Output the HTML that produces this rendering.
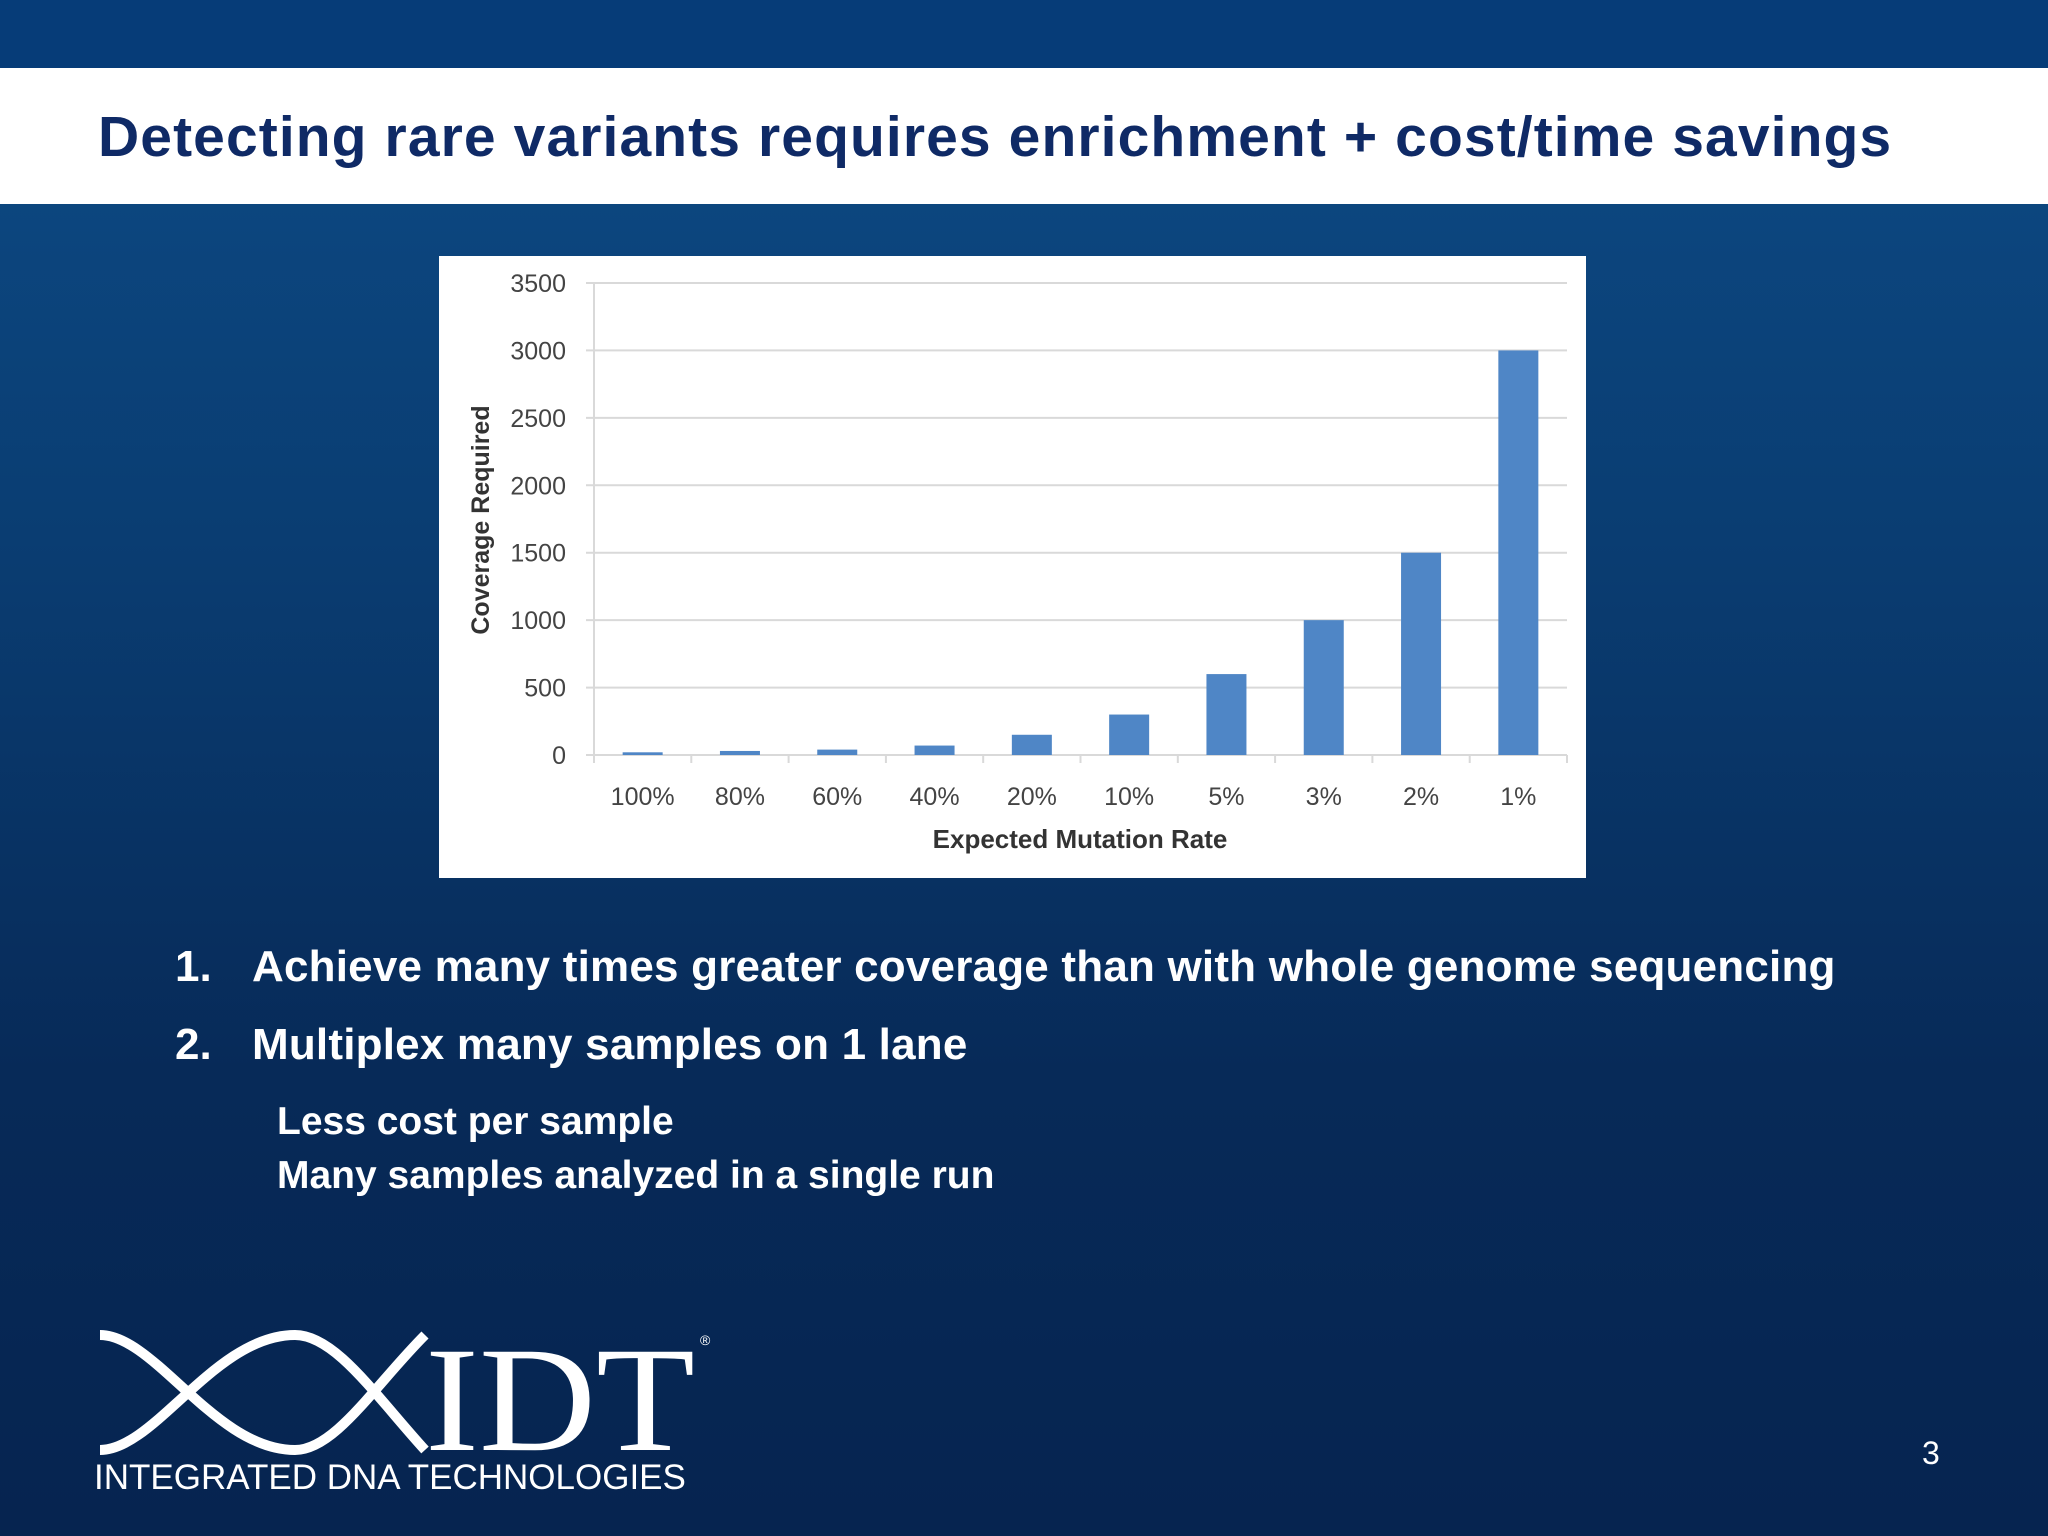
<!DOCTYPE html>
<html><head><meta charset="utf-8"><style>
body{margin:0;width:2048px;height:1536px;overflow:hidden;font-family:"Liberation Sans",sans-serif;background:linear-gradient(#0d4b86 0%,#0a3d72 35%,#072a58 70%,#062450 100%);position:relative}
.abs{position:absolute}
</style></head><body>
<div class="abs" style="left:0;top:0;width:2048px;height:68px;background:#063c78"></div>
<div class="abs" style="left:0;top:68px;width:2048px;height:136px;background:#fff"></div>
<div class="abs" style="left:98px;top:104px;font-size:57px;font-weight:bold;color:#0f2a66;white-space:nowrap;letter-spacing:1.1px">Detecting rare variants requires enrichment + cost/time savings</div>
<svg class="abs" style="left:0;top:0" width="2048" height="1536" id="chart">
<rect x="439" y="256" width="1147" height="622" fill="#fff"/>
</svg>
<div class="abs" style="left:175px;top:942px;font-size:44px;font-weight:bold;color:#fff;white-space:nowrap">1.<span style="position:absolute;left:77px;letter-spacing:0.2px">Achieve many times greater coverage than with whole genome sequencing</span></div>
<div class="abs" style="left:175px;top:1020px;font-size:44px;font-weight:bold;color:#fff;white-space:nowrap">2.<span style="position:absolute;left:77px;letter-spacing:0.2px">Multiplex many samples on 1 lane</span></div>
<div class="abs" style="left:277px;top:1100px;font-size:39px;font-weight:bold;color:#fff;white-space:nowrap">Less cost per sample</div>
<div class="abs" style="left:277px;top:1154px;font-size:39px;font-weight:bold;color:#fff;white-space:nowrap">Many samples analyzed in a single run</div>
<svg class="abs" style="left:95px;top:1325px" width="640" height="140">
<path d="M5 10 C60 10 120 125 200 125 C240 125 280 60 330 10" stroke="#fff" stroke-width="10" fill="none"/>
<path d="M5 125 C60 125 120 10 200 10 C240 10 280 70 330 125" stroke="#fff" stroke-width="10" fill="none"/>
<text x="330" y="125" font-family="Liberation Serif" font-size="150" fill="#fff" textLength="270" lengthAdjust="spacingAndGlyphs">IDT</text>
<text x="605" y="20" font-size="14" fill="#fff">®</text>
</svg>
<div class="abs" style="left:94px;top:1458px;font-size:35px;color:#fff;white-space:nowrap">INTEGRATED DNA TECHNOLOGIES</div>
<div class="abs" style="left:1922px;top:1435px;font-size:32px;color:#fff">3</div>
<script>
const categories=["100%","80%","60%","40%","20%","10%","5%","3%","2%","1%"];
const values=[20,30,40,70,150,300,600,1000,1500,3000];
const ticks=[0,500,1000,1500,2000,2500,3000,3500];
const svg=document.getElementById('chart');
const NS='http://www.w3.org/2000/svg';
const x0=594,x1=1567,y0=755,y1=283,maxV=3500;
const yS=v=>y0-(v/maxV)*(y0-y1);
const band=(x1-x0)/categories.length;
const xS=i=>x0+band*(i+0.5);
function el(t,a){const e=document.createElementNS(NS,t);for(const k in a)e.setAttribute(k,a[k]);svg.appendChild(e);return e;}
ticks.forEach(t=>{
const g=el('line',{x1:x0-8,x2:x1,y1:yS(t),y2:yS(t),stroke:'#d9d9d9','stroke-width':2});


const l=el('text',{x:566,y:yS(t)+9,'text-anchor':'end','font-size':25,fill:'#444'});
l.textContent=t;


});
const ax=el('line',{x1:x0,x2:x0,y1:y1,y2:y0+8,stroke:'#d9d9d9','stroke-width':2});


categories.forEach((c,i)=>{
const tk=el('line',{x1:x0+band*(i+1),x2:x0+band*(i+1),y1:y0,y2:y0+8,stroke:'#d9d9d9','stroke-width':2});


const b=el('rect',{x:xS(i)-20,y:yS(values[i]),width:40,height:y0-yS(values[i]),fill:'#4f86c6'});


const l=el('text',{x:xS(i),y:805,'text-anchor':'middle','font-size':25,fill:'#444'});
l.textContent=c;


});
const xt=el('text',{x:1080,y:848,'text-anchor':'middle','font-size':26,'font-weight':'bold',fill:'#333'});
xt.textContent='Expected Mutation Rate';


const yt=el('text',{x:0,y:0,'text-anchor':'middle','font-size':25,'font-weight':'bold',fill:'#333',transform:'translate(489,520) rotate(-90)'});
yt.textContent='Coverage Required';


</script>
</body></html>
